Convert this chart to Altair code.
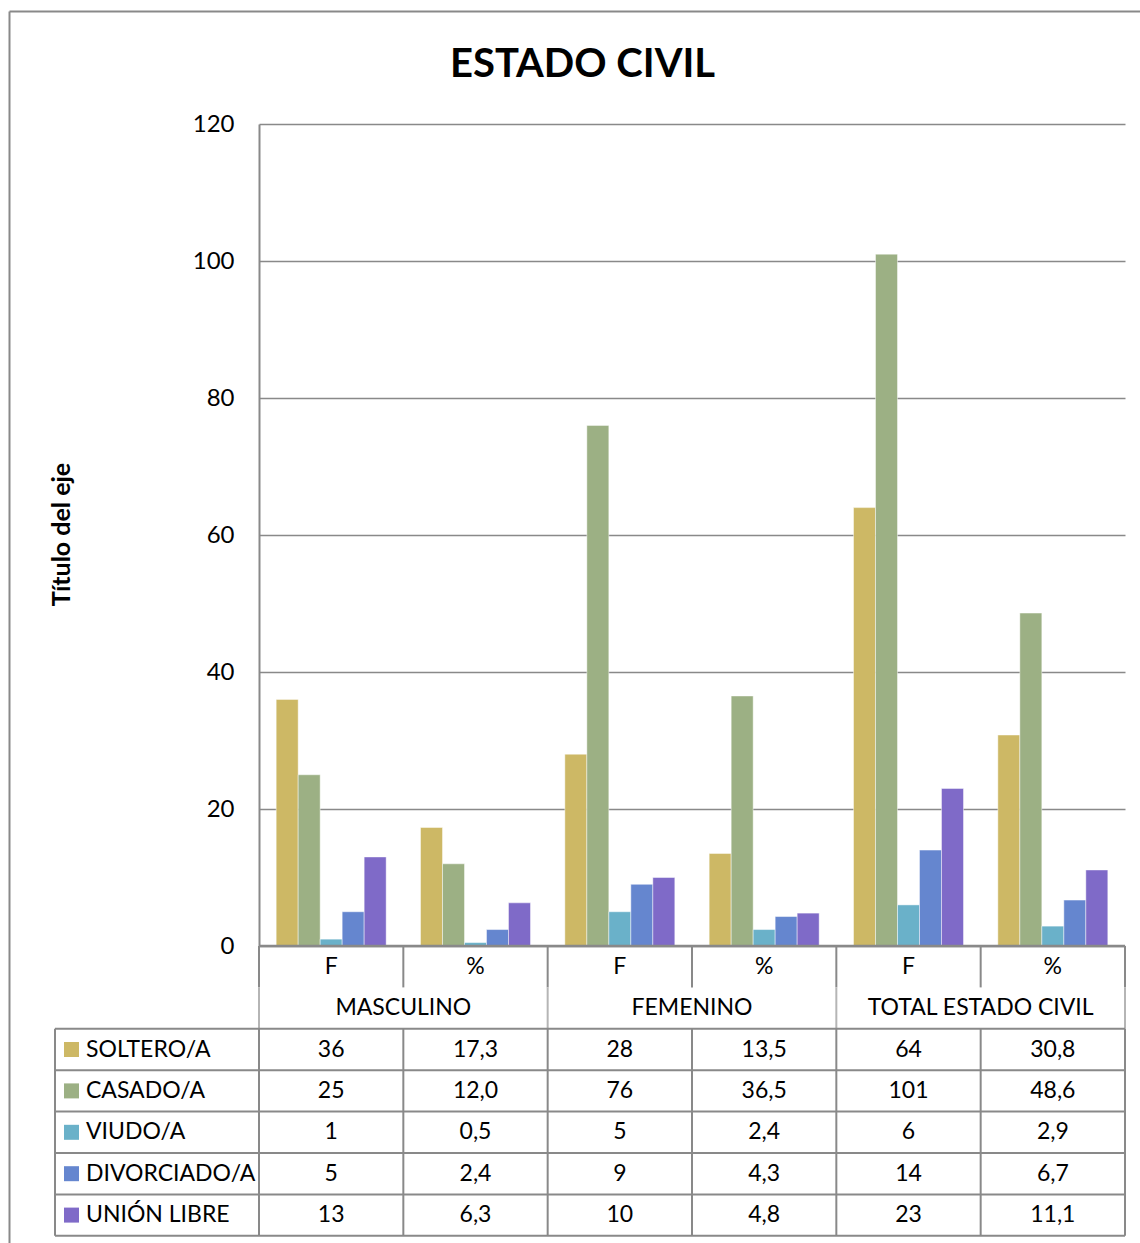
import altair as alt
import pandas as pd

# ---- data -------------------------------------------------------------
SERIES = ["SOLTERO/A", "CASADO/A", "VIUDO/A", "DIVORCIADO/A", "UNIÓN LIBRE"]
COLORS = ["#CDB865", "#9CB084", "#6AB1C9", "#6586CF", "#7F6AC8"]
GROUPS = ["MASCULINO", "FEMENINO", "TOTAL ESTADO CIVIL"]
MEASURES = ["F", "%"]
TITLE = "ESTADO CIVIL"

# one value per column: (MASCULINO F, %), (FEMENINO F, %), (TOTAL F, %)
SOLTERO = [36, 17.3, 28, 13.5, 64, 30.8]
CASADO = [25, 12.0, 76, 36.5, 101, 48.6]
VIUDO = [1, 0.5, 5, 2.4, 6, 2.9]
DIVORCIADO = [5, 2.4, 9, 4.3, 14, 6.7]
UNION_LIBRE = [13, 6.3, 10, 4.8, 23, 11.1]
SERIES_VALUES = [SOLTERO, CASADO, VIUDO, DIVORCIADO, UNION_LIBRE]

Y_TICKS = [0, 20, 40, 60, 80, 100, 120]

# ---- layout -----------------------------------------------------------
FONT = "Lato"
GRAY = "#898989"
PLOT_W, PLOT_H = 866, 822
N_COLS = len(GROUPS) * len(MEASURES)
COL_W = PLOT_W / N_COLS
LABEL_W = 204                      # width of the series-name column
LABEL_SPAN = LABEL_W / COL_W       # same width in table-column units
N_ROWS = 2 + len(SERIES)           # category rows + one row per series
ROW_H = 41.4

table_x = alt.Scale(domain=[-LABEL_SPAN, N_COLS], range=[-LABEL_W, PLOT_W])
table_y = alt.Scale(domain=[0, N_ROWS], range=[PLOT_H, PLOT_H + N_ROWS * ROW_H])


def fmt(value, measure):
    if measure == "F":
        return f"{value:.0f}"
    return f"{value:.1f}".replace(".", ",")


records = []
for s, (name, vals) in enumerate(zip(SERIES, SERIES_VALUES)):
    for c, v in enumerate(vals):
        m = MEASURES[c % len(MEASURES)]
        records.append(dict(col=c, serie=name, value=v, label=fmt(v, m),
                            cx=c + 0.5, ry=s + 2.5))
data = pd.DataFrame(records)

measure_row = pd.DataFrame(
    [dict(text=MEASURES[c % len(MEASURES)], cx=c + 0.5, ry=0.5) for c in range(N_COLS)]
)
group_row = pd.DataFrame(
    [dict(text=g, cx=len(MEASURES) * (i + 0.5), ry=1.5) for i, g in enumerate(GROUPS)]
)
series_rows = pd.DataFrame(
    [dict(serie=name, cx=-LABEL_SPAN, ry=s + 2.5) for s, name in enumerate(SERIES)]
)

# table grid lines
hlines = [dict(y=r, x0=-LABEL_SPAN, x1=N_COLS) for r in range(2, N_ROWS + 1)]
vlines = []
for c in range(N_COLS + 1):
    if c % len(MEASURES) == 0:
        vlines.append(dict(x=c, y0=0, y1=1, shade=GRAY))
        vlines.append(dict(x=c, y0=1, y1=2, shade="#B5B5B5"))
        vlines.append(dict(x=c, y0=2, y1=N_ROWS, shade=GRAY))
    else:
        vlines.append(dict(x=c, y0=0, y1=1, shade=GRAY))
        vlines.append(dict(x=c, y0=2, y1=N_ROWS, shade=GRAY))
vlines.append(dict(x=-LABEL_SPAN, y0=2, y1=N_ROWS, shade=GRAY))
hlines_df = pd.DataFrame(hlines)
vlines_df = pd.DataFrame(vlines)
axis_line = pd.DataFrame([dict(y=0, x0=0, x1=N_COLS)])

color = alt.Color("serie:N", sort=SERIES,
                  scale=alt.Scale(domain=SERIES, range=COLORS), legend=None)

one_row = pd.DataFrame([dict(text=TITLE)])

# ---- outer frame (left and top edges of the chart border) ---------------
frame_top = alt.Chart(one_row).mark_rule(color=GRAY, strokeWidth=2).encode(
    x=alt.value(-249.5), x2=alt.value(PLOT_W + 60), y=alt.value(-112.5))
frame_left = alt.Chart(one_row).mark_rule(color=GRAY, strokeWidth=2).encode(
    x=alt.value(-249.5), y=alt.value(-112.5), y2=alt.value(PLOT_H + 340))

# ---- title -------------------------------------------------------------
title = alt.Chart(one_row).mark_text(
    font=FONT, fontSize=40, fontWeight="bold", color="black",
    align="center", baseline="alphabetic",
).encode(x=alt.value(323.5), y=alt.value(-47), text="text:N")

# ---- bars -------------------------------------------------------------
bars = alt.Chart(data).mark_bar(
    stroke="white", strokeWidth=1, strokeOpacity=0.45
).encode(
    x=alt.X("col:O", axis=None,
            scale=alt.Scale(paddingInner=0.238, paddingOuter=0.119)),
    xOffset=alt.XOffset("serie:N", sort=SERIES,
                        scale=alt.Scale(paddingInner=0, paddingOuter=0)),
    y=alt.Y("value:Q",
            scale=alt.Scale(domain=[0, 120], nice=False),
            axis=alt.Axis(
                values=Y_TICKS, title="Título del eje", grid=True,
                gridColor=GRAY, gridWidth=1.6, domainColor=GRAY, domainWidth=2,
                ticks=False, labelFont=FONT, labelFontSize=24, labelColor="black",
                labelPadding=25, titleFont=FONT, titleFontSize=25,
                titleFontWeight="bold", titleColor="black", titleAngle=-90,
                titleX=-198, titleY=PLOT_H / 2 - 1, titleAlign="center",
                titleBaseline="middle",
            )),
    color=color,
)

# ---- data table -------------------------------------------------------
def tx(field):
    return alt.X(field, type="quantitative", scale=table_x, axis=None)


def ty(field):
    return alt.Y(field, type="quantitative", scale=table_y, axis=None)


h_rules = alt.Chart(hlines_df).mark_rule(color=GRAY, strokeWidth=2).encode(
    x=tx("x0"), x2="x1", y=ty("y"))
v_rules = alt.Chart(vlines_df).mark_rule(strokeWidth=2).encode(
    x=tx("x"), y=ty("y0"), y2="y1",
    color=alt.Color("shade:N", scale=None, legend=None))
x_axis = alt.Chart(axis_line).mark_rule(color=GRAY, strokeWidth=2.5).encode(
    x=tx("x0"), x2="x1", y=ty("y"))

text_style = dict(font=FONT, fontSize=23, color="black", baseline="middle")

measure_text = alt.Chart(measure_row).mark_text(**text_style).encode(
    x=tx("cx"), y=ty("ry"), text="text:N")
group_text = alt.Chart(group_row).mark_text(**text_style).encode(
    x=tx("cx"), y=ty("ry"), text="text:N")
value_text = alt.Chart(data).mark_text(**text_style).encode(
    x=tx("cx"), y=ty("ry"), text="label:N")
name_text = alt.Chart(series_rows).mark_text(align="left", dx=31, **text_style).encode(
    x=tx("cx"), y=ty("ry"), text="serie:N")
keys = alt.Chart(series_rows).mark_square(size=225, xOffset=16.5, opacity=1).encode(
    x=tx("cx"), y=ty("ry"), color=color)

chart = alt.layer(
    frame_top, frame_left, title, bars, v_rules, h_rules, x_axis,
    measure_text, group_text, value_text, name_text, keys,
).resolve_scale(
    x="independent", y="independent"
).properties(
    width=PLOT_W, height=PLOT_H,
    padding={"left": 259, "top": 124, "right": 15, "bottom": 297},
    autosize=alt.AutoSizeParams(type="none"),
).configure_view(stroke=None)

chart.save("out.html", embed_options={"renderer": "svg", "actions": False})
